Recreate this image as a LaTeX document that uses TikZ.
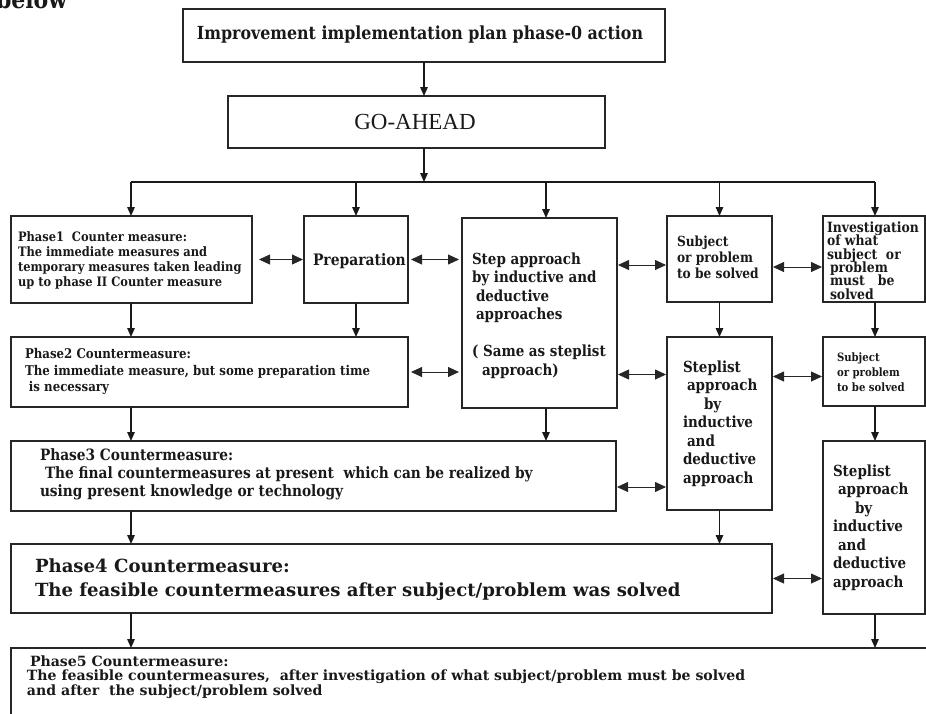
\documentclass[tikz,border=0pt]{standalone}
\usepackage{fontspec}
\newfontfamily\mf{DejaVu Serif}[FakeStretch=0.88]
\newfontfamily\mfw{DejaVu Serif}
\newfontfamily\gofont{Liberation Serif}
\usetikzlibrary{arrows.meta,fit}
\newcommand\myfs[2]{\fontsize{#1}{#2}\selectfont\lineskiplimit=-20pt\relax}
\tikzset{
  box/.style={draw=black!85, line width=1.2pt, inner sep=0pt, outer sep=0pt},
  txt/.style={inner sep=0pt, outer sep=0pt, align=left, text=black!90},
  arr/.style={-{Triangle[length=9pt,width=7.5pt]}, line width=1.4pt, black!90},
  busline/.style={line width=1.8pt, black!90},
  dbl/.style={{Triangle[length=11pt,width=10pt]}-{Triangle[length=11pt,width=10pt]}, line width=0.8pt, black!85, shorten <=1pt, shorten >=1pt}
}
\begin{document}
\begin{tikzpicture}[x=1pt,y=-1pt]
\useasboundingbox (0,0) rectangle (926,713);
\clip (0,0) rectangle (926,713);

\node[txt, anchor=base west, font=\mf\bfseries\myfs{25}{30}] (below) at (-4,8) {below};

% boxes
\node[box, fit={(183,9) (665,62)}] (b1) {};
\node[box, fit={(228,96) (605,148)}] (go) {};
\node[box, fit={(11,216) (252,303)}] (p1) {};
\node[box, fit={(304,216) (408,303)}] (prep) {};
\node[box, fit={(462,218) (617,408)}] (step) {};
\node[box, fit={(667,216) (772,302)}] (subj) {};
\node[box, fit={(823,216) (925,302)}] (inv) {};
\node[box, fit={(11,337) (408,407)}] (p2) {};
\node[box, fit={(667,337) (772,510)}] (sl) {};
\node[box, fit={(823,337) (925,406)}] (sub2) {};
\node[box, fit={(11,441) (616,511)}] (p3) {};
\node[box, fit={(823,441) (925,614)}] (sl2) {};
\node[box, fit={(11,544) (772,613)}] (p4) {};
\node[box, fit={(11,648) (940,730)}] (p5) {};

% texts
\node[txt, font=\mf\bfseries\myfs{18}{22}] (t1) at (420,35) {Improvement implementation plan phase-0 action};
\node[txt, font=\gofont\myfs{23}{27}] (tgo) at (415,122) {GO-AHEAD};
\node[txt, anchor=west, font=\mf\bfseries\myfs{13}{15}] (tp1) at (18,260.5)
  {Phase1\ \ Counter measure:\\The immediate measures and\\temporary measures taken leading\\up to phase II Counter measure};
\node[txt, anchor=west, font=\mf\bfseries\myfs{15.8}{19}] (tprep) at (313,261) {Preparation};
\node[txt, anchor=west, font=\mf\bfseries\myfs{15.3}{18.5}] (tstep) at (472,315.5)
  {Step approach\\by inductive and\\\hspace*{4pt}deductive\\\hspace*{4pt}approaches\\[18.5pt]( Same as steplist\\\hspace*{10pt}approach)};
\node[txt, anchor=west, font=\mf\bfseries\myfs{13.9}{16}] (tsubj) at (677,257)
  {Subject\\or problem\\to be solved};
\node[txt, anchor=west, font=\mf\bfseries\myfs{14.1}{13.4}] (tinv) at (827,260.5)
  {Investigation\\of what\\subject\ \ or\\\hspace*{3pt}problem\\\hspace*{3pt}must\ \ \ be\\\hspace*{3pt}solved};
\node[txt, anchor=west, font=\mf\bfseries\myfs{13.4}{16.5}] (tp2) at (25,371.7)
  {Phase2 Countermeasure:\\The immediate measure, but some preparation time\\\hspace*{4pt}is necessary};
\node[txt, anchor=west, font=\mf\bfseries\myfs{15.6}{18}] (tp3) at (40,474)
  {Phase3 Countermeasure:\\\hspace*{5pt}The final countermeasures at present\ \ which can be realized by\\using present knowledge or technology};
\node[txt, anchor=west, font=\mfw\bfseries\myfs{18.1}{24}] (tp4) at (35,580)
  {Phase4 Countermeasure:\\The feasible countermeasures after subject/problem was solved};
\node[txt, anchor=west, font=\mfw\bfseries\myfs{14.1}{14.5}] (tp5) at (27,677)
  {\hspace*{3pt}Phase5 Countermeasure:\\The feasible countermeasures,\ \ after investigation of what subject/problem must be solved\\and after\ \ the subject/problem solved};
\node[txt, anchor=west, font=\mf\bfseries\myfs{11.5}{15}] (tsub2) at (837,372)
  {Subject\\or problem\\to be solved};
\node[txt, anchor=west, font=\mf\bfseries\myfs{15.3}{18.5}] (tsl) at (683,423.5)
  {Steplist\\\hspace*{4pt}approach\\\hspace*{21pt}by\\inductive\\\hspace*{4pt}and\\deductive\\approach};
\node[txt, anchor=west, font=\mf\bfseries\myfs{15.3}{18.5}] (tsl2) at (833,527.5)
  {Steplist\\\hspace*{5pt}approach\\\hspace*{22pt}by\\inductive\\\hspace*{5pt}and\\deductive\\approach};

% coordinates
\coordinate (bus) at (424,182);
\coordinate (cA) at (131,0);
\coordinate (cC) at (546,0);
\coordinate (cE) at (875,0);

% vertical connectors
\draw[arr] (b1.south) -- (b1.south |- go.north);
\draw[arr] (b1.south |- go.south) -- (bus);
\draw[busline] (cA |- bus) -- (cE |- bus);
\draw[arr] (cA |- bus) -- (cA |- p1.north);
\draw[arr] (prep.north |- bus) -- (prep.north);
\draw[arr] (cC |- bus) -- (cC |- step.north);
\draw[arr] (subj.north |- bus) -- (subj.north);
\draw[arr] (cE |- bus) -- (cE |- inv.north);
\draw[arr] (cA |- p1.south) -- (cA |- p2.north);
\draw[arr] (prep.south) -- (prep.south |- p2.north);
\draw[arr] (subj.south) -- (subj.south |- sl.north);
\draw[arr] (cE |- inv.south) -- (cE |- sub2.north);
\draw[arr] (cA |- p2.south) -- (cA |- p3.north);
\draw[arr] (cC |- step.south) -- (cC |- p3.north);
\draw[arr] (cE |- sub2.south) -- (cE |- sl2.north);
\draw[arr] (cA |- p3.south) -- (cA |- p4.north);
\draw[arr] (sl.south) -- (sl.south |- p4.north);
\draw[arr] (cA |- p4.south) -- (cA |- p5.north);
\draw[arr] (cE |- sl2.south) -- (cE |- p5.north);

% double arrows
\draw[dbl] ([xshift=6pt]p1.east) -- (prep.west);
\draw[dbl] ([xshift=2pt]prep.east) -- ([xshift=-2pt]prep.east -| step.west);
\draw[dbl] ([yshift=-6pt]subj.west -| step.east) -- ([yshift=-6pt]subj.west);
\draw[dbl] ([yshift=-8pt]inv.west -| subj.east) -- ([yshift=-8pt]inv.west);
\draw[dbl] ([xshift=2pt]p2.east) -- ([xshift=-2pt]p2.east -| step.west);
\draw[dbl] ([yshift=-3pt]sub2.west -| step.east) -- ([yshift=-3pt]sub2.west -| sl.west);
\draw[dbl] ([yshift=-5pt]sub2.west -| sl.east) -- ([yshift=-5pt]sub2.west);
\draw[dbl] ([yshift=-11pt]p3.east) -- ([yshift=-11pt]p3.east -| sl.west);
\draw[dbl] (p4.east) -- (p4.east -| sl2.west);
\end{tikzpicture}
\end{document}
